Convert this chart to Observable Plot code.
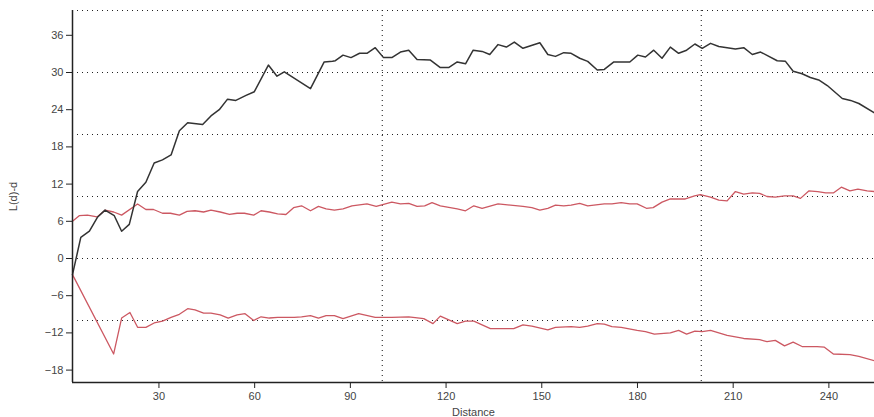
<!DOCTYPE html>
<html>
<head>
<meta charset="utf-8">
<script src="https://cdn.jsdelivr.net/npm/d3@7"></script>
<script src="https://cdn.jsdelivr.net/npm/@observablehq/plot@0.6"></script>
<style>
  html, body { margin: 0; padding: 0; background: #fff; }
  #chart svg { display: block; }
</style>
</head>
<body>
<div id="chart"></div>
<script>
// Observed L(d)-d (black)
const obsD = [2.9,5.5,8.2,10.8,13.1,16,18.3,20.7,23.3,25.9,28.5,31.1,33.8,36.4,39,43.7,46.3,48.9,51.5,54.1,57.3,59.9,64.3,67,69.3,77.5,81.8,84.4,85.3,87.7,90.2,92.9,95.2,97.8,100.4,103,105.7,108.3,110.9,115.1,118.2,120.8,123.5,126.1,128.5,131.3,133.7,136.3,138.9,141.4,144.1,149.4,151.9,154.3,156.9,159.2,161.9,164.4,167.4,169.6,172.6,177.6,180.1,182.5,185.1,187.7,190.3,192.9,195.4,198,200.3,202.9,205.5,208.1,210.7,213.3,216,218.6,223.8,226.4,228.8,231.6,234.2,236.8,239.5,244.2,246.8,249.4,254.3];
const obsL = [-2.6,3.4,4.4,6.7,7.8,6.9,4.4,5.5,10.8,12.3,15.4,15.9,16.7,20.6,21.9,21.6,23,24,25.7,25.5,26.3,26.9,31.2,29.4,30.1,27.4,31.7,31.8,31.9,32.8,32.4,33.1,33.1,34.0,32.4,32.4,33.3,33.6,32.1,32.0,30.8,30.8,31.7,31.4,33.6,33.4,32.9,34.5,34.1,34.9,33.9,34.8,32.9,32.6,33.2,33.1,32.3,31.8,30.4,30.5,31.7,31.7,32.8,32.5,33.6,32.3,34.1,33.1,33.6,34.6,33.9,34.7,34.2,34.0,33.8,34.0,32.9,33.3,31.9,31.8,30.2,29.8,29.2,28.8,27.9,25.8,25.5,25.0,23.5];

// Upper envelope (red)
const upD = [2.9,5,7.6,10.6,13.1,15.8,18.3,23.3,25.9,28.3,31.1,33.6,36.4,38.8,41.3,44,46.3,49.2,52.1,54.5,56.8,59.7,62,64.6,67.2,69.8,72.2,74.7,77.5,80,82.4,85,87.7,90.5,95.2,98.1,103,105.7,108.3,110.9,113.3,115.6,118.2,123.5,126.1,128.7,131.3,136.3,144.1,146.9,149.4,151.9,154.3,156.9,159.2,161.9,164.4,169.6,172,174.9,177.6,179.9,182.8,184.9,187.7,190.3,195,197.9,199.7,202.9,205.5,208.1,210.7,213.3,216,218.3,220.6,223.2,226.1,228.8,231.1,233.7,236.5,239,241.5,243.9,246.6,249.1,252,254.3];
const upL = [6.0,6.9,7.0,6.7,7.8,7.5,7.0,8.8,7.9,7.9,7.3,7.3,7.0,7.6,7.7,7.5,7.8,7.5,7.1,7.3,7.3,7.0,7.7,7.5,7.2,7.1,8.2,8.5,7.7,8.4,8.0,7.8,8.0,8.5,8.8,8.4,9.1,8.8,8.9,8.4,8.5,9.0,8.5,8.0,7.7,8.5,8.1,8.8,8.4,8.2,7.8,8.1,8.6,8.5,8.6,8.9,8.5,8.8,8.8,9.0,8.8,8.8,8.1,8.2,9.1,9.6,9.6,10.1,10.3,9.9,9.4,9.3,10.8,10.4,10.6,10.5,10.0,9.9,10.1,10.1,9.7,10.9,10.8,10.6,10.6,11.5,10.9,11.2,10.9,10.8];

// Lower envelope (red)
const loD = [2.9,15.8,18.3,20.9,23.3,25.9,28.5,31.1,33.8,36.4,39,41.3,44,46.3,49.2,51.7,54.5,57,59.7,62,64.6,67.2,72.4,74.7,77.5,80,82.4,85,87.7,92.6,97.8,103,108.3,113,115.9,118.2,123.5,126.1,128.7,133.9,141.2,144.1,146.9,151.9,154.3,159.2,161.9,164.4,167.4,169.6,172,174.9,179.9,182.5,185.3,190.3,192.9,195.4,198,200.3,202.9,208.1,213.3,218.3,220.6,223.2,226.1,228.8,231.6,236.3,238.6,241.4,246.6,249.4,254.3];
const loL = [-2.6,-15.4,-9.6,-8.7,-11.1,-11.1,-10.4,-10.1,-9.5,-9.0,-8.1,-8.3,-8.8,-8.8,-9.1,-9.6,-9.1,-8.9,-10.0,-9.4,-9.6,-9.5,-9.5,-9.4,-9.2,-9.6,-9.2,-9.2,-9.7,-8.9,-9.5,-9.5,-9.4,-9.7,-10.5,-9.3,-10.5,-10.1,-10.1,-11.3,-11.3,-10.7,-10.9,-11.5,-11.1,-11.0,-11.1,-10.9,-10.5,-10.6,-11.0,-11.1,-11.6,-11.8,-12.2,-12.0,-11.6,-12.2,-11.7,-11.8,-11.6,-12.4,-12.9,-13.1,-13.4,-13.2,-14.1,-13.5,-14.2,-14.2,-14.3,-15.4,-15.5,-15.8,-16.5];

const xTicks = [30, 60, 90, 120, 150, 180, 210, 240];
const yTicks = [-18, -12, -6, 0, 6, 12, 18, 24, 30, 36];
const xGrid = [100, 200];
const yGrid = [-10, 0, 10, 20, 30, 40];
const yDomain = [-20, 40];
const xDomain = [d3.min(obsD), d3.max(obsD)];

const obs = obsD.map((d, i) => ({d, v: obsL[i]}));
const up = upD.map((d, i) => ({d, v: upL[i]}));
const lo = loD.map((d, i) => ({d, v: loL[i]}));

const dotted = {stroke: "#222", strokeDasharray: "1,4", strokeWidth: 1.1};

const chart = Plot.plot({
  width: 874,
  height: 417,
  marginLeft: 72,
  marginRight: 0,
  marginTop: 10,
  marginBottom: 35,
  style: {fontFamily: "Liberation Sans, Arial, sans-serif", fontSize: "11px", background: "#fff", color: "#333"},
  x: {domain: xDomain},
  y: {domain: yDomain},
  marks: [
    Plot.ruleY(yGrid, dotted),
    Plot.ruleX(xGrid, dotted),
    Plot.line(up, {x: "d", y: "v", stroke: "#cc5862", strokeWidth: 1.3}),
    Plot.line(lo, {x: "d", y: "v", stroke: "#cc5862", strokeWidth: 1.3}),
    Plot.line(obs, {x: "d", y: "v", stroke: "#333", strokeWidth: 1.5}),
    Plot.axisY({ticks: yTicks, tickSize: 6, tickPadding: 3, label: "L(d)-d", labelAnchor: "center", labelOffset: 63, labelArrow: "none", fill: "#444", stroke: "#222"}),
    Plot.axisX({ticks: xTicks, tickSize: 6, tickPadding: 4, label: "Distance", labelAnchor: "center", labelOffset: 33, labelArrow: "none", fill: "#444", stroke: "#222"}),
    Plot.ruleX([xDomain[0]], {stroke: "#222", strokeWidth: 1.5}),
    Plot.ruleY([yDomain[0]], {stroke: "#222", strokeWidth: 1.5})
  ]
});
document.getElementById("chart").appendChild(chart);
</script>
</body>
</html>
